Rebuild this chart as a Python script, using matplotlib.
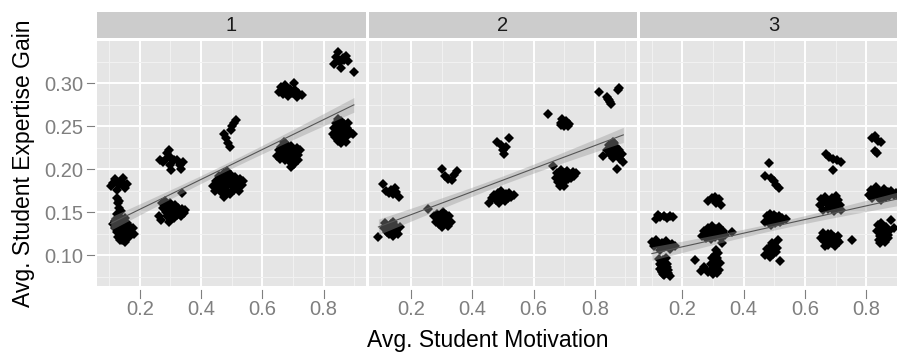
import numpy as np
import matplotlib
matplotlib.use('Agg')
import matplotlib.pyplot as plt

plt.rcParams['font.family'] = ['Liberation Sans', 'DejaVu Sans']

# facet labels
panels = ['1', '2', '3']
x_ticks = [0.2, 0.4, 0.6, 0.8]
y_ticks = [0.10, 0.15, 0.20, 0.25, 0.30]
y_tick_labels = ['0.10', '0.15', '0.20', '0.25', '0.30']

# panel 1 (jittered points)
motiv_1 = [0.112, 0.118, 0.121, 0.124, 0.127, 0.129, 0.131, 0.133, 0.135, 0.137,
           0.139, 0.141, 0.143, 0.145, 0.147, 0.149, 0.151, 0.153, 0.155, 0.158,
           0.161, 0.164, 0.168, 0.172, 0.176, 0.181, 0.126, 0.150, 0.134, 0.119,
           0.105, 0.112, 0.118, 0.125, 0.132, 0.139, 0.146, 0.150, 0.157,
           0.125, 0.128, 0.133, 0.138, 0.131,
           0.265, 0.275, 0.285, 0.290, 0.295, 0.298, 0.300, 0.303, 0.312, 0.322,
           0.330, 0.336, 0.340,
           0.262, 0.268, 0.272, 0.277, 0.282, 0.285, 0.288, 0.291, 0.294, 0.297,
           0.300, 0.303, 0.306, 0.309, 0.312, 0.315, 0.318, 0.322, 0.326, 0.330,
           0.334, 0.338, 0.343, 0.348, 0.337,
           0.475, 0.482, 0.488, 0.493, 0.497, 0.502, 0.508, 0.514,
           0.438, 0.445, 0.450, 0.455, 0.460, 0.463, 0.467, 0.470, 0.473, 0.476,
           0.479, 0.482, 0.485, 0.488, 0.491, 0.494, 0.497, 0.500, 0.503, 0.506,
           0.509, 0.512, 0.516, 0.520, 0.524, 0.528, 0.533, 0.538, 0.486, 0.476,
           0.655, 0.662, 0.668, 0.673, 0.678, 0.684, 0.690, 0.696, 0.702, 0.706,
           0.712, 0.718, 0.728,
           0.648, 0.654, 0.658, 0.662, 0.666, 0.670, 0.673, 0.676, 0.679, 0.682,
           0.685, 0.688, 0.691, 0.694, 0.697, 0.700, 0.703, 0.706, 0.709, 0.712,
           0.715, 0.718, 0.722, 0.695, 0.672,
           0.835, 0.842, 0.848, 0.853, 0.857, 0.862, 0.868, 0.874, 0.880, 0.899,
           0.830, 0.835, 0.838, 0.842, 0.845, 0.848, 0.851, 0.854, 0.857, 0.860,
           0.863, 0.866, 0.869, 0.872, 0.875, 0.878, 0.881, 0.884, 0.890, 0.895,
           0.858, 0.846]
gain_1 = [0.136, 0.131, 0.142, 0.127, 0.135, 0.121, 0.146, 0.130, 0.138, 0.125,
          0.133, 0.118, 0.141, 0.128, 0.135, 0.122, 0.131, 0.143, 0.126, 0.137,
          0.129, 0.121, 0.133, 0.126, 0.131, 0.125, 0.148, 0.115, 0.117, 0.140,
          0.180, 0.184, 0.188, 0.176, 0.181, 0.186, 0.190, 0.178, 0.183,
          0.166, 0.160, 0.155, 0.151, 0.163,
          0.210, 0.208, 0.212, 0.219, 0.222, 0.214, 0.205, 0.199, 0.210, 0.211,
          0.205, 0.200, 0.208,
          0.146, 0.141, 0.160, 0.155, 0.163, 0.150, 0.145, 0.158, 0.139, 0.152,
          0.161, 0.147, 0.155, 0.150, 0.143, 0.158, 0.152, 0.147, 0.155, 0.150,
          0.145, 0.153, 0.149, 0.152, 0.172,
          0.241, 0.236, 0.230, 0.226, 0.245, 0.250, 0.254, 0.257,
          0.180, 0.175, 0.186, 0.178, 0.192, 0.183, 0.172, 0.188, 0.180, 0.195,
          0.184, 0.176, 0.190, 0.182, 0.186, 0.171, 0.193, 0.180, 0.187, 0.176,
          0.184, 0.191, 0.179, 0.185, 0.174, 0.188, 0.182, 0.186, 0.198, 0.168,
          0.290, 0.295, 0.287, 0.298, 0.291, 0.285, 0.293, 0.288, 0.300, 0.292,
          0.284, 0.289, 0.286,
          0.215, 0.222, 0.212, 0.226, 0.218, 0.222, 0.210, 0.229, 0.217, 0.224,
          0.214, 0.219, 0.208, 0.227, 0.215, 0.221, 0.206, 0.213, 0.218, 0.225,
          0.211, 0.216, 0.222, 0.203, 0.231,
          0.322, 0.330, 0.336, 0.325, 0.318, 0.329, 0.327, 0.332, 0.326, 0.313,
          0.241, 0.248, 0.237, 0.254, 0.244, 0.233, 0.250, 0.240, 0.256, 0.246,
          0.235, 0.252, 0.242, 0.231, 0.248, 0.238, 0.254, 0.244, 0.242, 0.241,
          0.230, 0.258]

# panel 2
motiv_2 = [0.093, 0.112, 0.116, 0.120, 0.124, 0.127, 0.130, 0.133, 0.136, 0.139,
           0.142, 0.145, 0.148, 0.151, 0.154, 0.158, 0.162, 0.140,
           0.107, 0.118, 0.126, 0.133, 0.140, 0.146, 0.150, 0.160,
           0.256, 0.275, 0.280, 0.284, 0.288, 0.292, 0.296, 0.300, 0.304, 0.307,
           0.310, 0.313, 0.317, 0.321, 0.325, 0.329, 0.300,
           0.300, 0.312, 0.320, 0.332, 0.340, 0.350,
           0.455, 0.465, 0.472, 0.478, 0.484, 0.490, 0.495, 0.500, 0.505, 0.510,
           0.515, 0.520, 0.527, 0.535, 0.488,
           0.482, 0.494, 0.500, 0.503, 0.510, 0.520,
           0.662, 0.672, 0.677, 0.681, 0.685, 0.689, 0.692, 0.695, 0.698, 0.702,
           0.705, 0.709, 0.713, 0.717, 0.722, 0.727, 0.733, 0.740, 0.700, 0.686,
           0.646, 0.688, 0.694, 0.700, 0.707, 0.714, 0.691, 0.703, 0.711,
           0.825, 0.840, 0.845, 0.850, 0.855, 0.858, 0.862, 0.866, 0.870, 0.874,
           0.878, 0.883, 0.888, 0.893, 0.873, 0.860,
           0.812, 0.840, 0.846, 0.852, 0.880, 0.843, 0.849, 0.877]
gain_2 = [0.121, 0.131, 0.137, 0.127, 0.133, 0.124, 0.130, 0.136, 0.126, 0.132,
          0.122, 0.129, 0.134, 0.127, 0.131, 0.125, 0.133, 0.139,
          0.183, 0.174, 0.172, 0.176, 0.171, 0.178, 0.173, 0.168,
          0.154, 0.145, 0.139, 0.148, 0.142, 0.136, 0.146, 0.140, 0.150, 0.143,
          0.137, 0.147, 0.141, 0.134, 0.145, 0.139, 0.133,
          0.200, 0.192, 0.188, 0.187, 0.193, 0.198,
          0.160, 0.166, 0.170, 0.164, 0.172, 0.167, 0.174, 0.169, 0.163, 0.171,
          0.166, 0.172, 0.168, 0.170, 0.160,
          0.232, 0.228, 0.222, 0.217, 0.226, 0.236,
          0.204, 0.190, 0.196, 0.185, 0.192, 0.199, 0.183, 0.189, 0.195, 0.186,
          0.193, 0.198, 0.188, 0.194, 0.190, 0.197, 0.192, 0.195, 0.180, 0.180,
          0.264, 0.254, 0.258, 0.250, 0.256, 0.252, 0.251, 0.254, 0.250,
          0.215, 0.222, 0.228, 0.218, 0.224, 0.213, 0.230, 0.220, 0.226, 0.215,
          0.222, 0.212, 0.218, 0.208, 0.200, 0.232,
          0.290, 0.284, 0.280, 0.276, 0.294, 0.282, 0.278, 0.292]

# panel 3
motiv_3 = [0.112, 0.120, 0.128, 0.140, 0.150, 0.160, 0.168,
           0.100, 0.108, 0.115, 0.122, 0.128, 0.134, 0.140, 0.147, 0.153, 0.160,
           0.167, 0.175,
           0.125, 0.130, 0.134, 0.138, 0.142, 0.146, 0.150, 0.154, 0.158, 0.145,
           0.135, 0.128, 0.132, 0.140, 0.148, 0.127, 0.152, 0.137,
           0.285, 0.295, 0.305, 0.310, 0.318, 0.325,
           0.265, 0.272, 0.278, 0.283, 0.288, 0.293, 0.297, 0.301, 0.305, 0.309,
           0.313, 0.318, 0.322, 0.327, 0.332, 0.338, 0.362, 0.330,
           0.240, 0.262, 0.272, 0.285, 0.295, 0.302, 0.306, 0.310, 0.314, 0.318,
           0.322, 0.308, 0.300, 0.304, 0.312, 0.298, 0.316, 0.292,
           0.483, 0.470, 0.488, 0.498, 0.506, 0.515,
           0.470, 0.476, 0.481, 0.486, 0.490, 0.494, 0.498, 0.502, 0.506, 0.510,
           0.514, 0.519, 0.524, 0.530, 0.537,
           0.470, 0.476, 0.482, 0.488, 0.494, 0.500, 0.506, 0.512, 0.518,
           0.485, 0.497, 0.509, 0.491,
           0.668, 0.680, 0.692, 0.705, 0.718, 0.693,
           0.648, 0.654, 0.659, 0.664, 0.669, 0.674, 0.679, 0.684, 0.689, 0.694,
           0.699, 0.704, 0.709, 0.714, 0.719, 0.700,
           0.652, 0.658, 0.663, 0.668, 0.674, 0.679, 0.684, 0.689, 0.694, 0.699,
           0.704, 0.710, 0.755, 0.665, 0.676, 0.687, 0.698, 0.707,
           0.820, 0.830, 0.840, 0.848, 0.830, 0.836,
           0.808, 0.815, 0.820, 0.826, 0.832, 0.838, 0.843, 0.848, 0.853, 0.858,
           0.864, 0.870, 0.876, 0.882, 0.890, 0.898, 0.906, 0.915,
           0.835, 0.840, 0.845, 0.850, 0.855, 0.860, 0.865, 0.870, 0.875, 0.880,
           0.845, 0.890, 0.842, 0.852, 0.862, 0.872, 0.848]
gain_3 = [0.142, 0.147, 0.144, 0.145, 0.143, 0.146, 0.144,
          0.115, 0.110, 0.118, 0.112, 0.106, 0.114, 0.109, 0.116, 0.111, 0.107,
          0.113, 0.110,
          0.095, 0.088, 0.082, 0.092, 0.085, 0.079, 0.090, 0.083, 0.076, 0.097,
          0.078, 0.084, 0.080, 0.077, 0.086, 0.090, 0.079, 0.094,
          0.163, 0.166, 0.168, 0.161, 0.165, 0.158,
          0.122, 0.128, 0.120, 0.132, 0.125, 0.119, 0.134, 0.127, 0.121, 0.130,
          0.124, 0.133, 0.126, 0.120, 0.128, 0.123, 0.127, 0.114,
          0.094, 0.082, 0.086, 0.080, 0.084, 0.092, 0.100, 0.088, 0.096, 0.083,
          0.091, 0.106, 0.078, 0.082, 0.079, 0.096, 0.102, 0.090,
          0.207, 0.192, 0.190, 0.186, 0.182, 0.178,
          0.138, 0.145, 0.140, 0.148, 0.135, 0.142, 0.147, 0.137, 0.144, 0.140,
          0.146, 0.138, 0.143, 0.141, 0.142,
          0.100, 0.107, 0.103, 0.110, 0.106, 0.112, 0.104, 0.117, 0.093,
          0.098, 0.101, 0.108, 0.114,
          0.217, 0.214, 0.212, 0.210, 0.208, 0.199,
          0.158, 0.165, 0.152, 0.168, 0.160, 0.154, 0.163, 0.157, 0.166, 0.151,
          0.160, 0.155, 0.164, 0.158, 0.152, 0.169,
          0.120, 0.126, 0.116, 0.122, 0.112, 0.119, 0.125, 0.114, 0.121, 0.111,
          0.118, 0.115, 0.118, 0.110, 0.124, 0.117, 0.113, 0.122,
          0.236, 0.238, 0.233, 0.231, 0.221, 0.219,
          0.170, 0.176, 0.166, 0.172, 0.179, 0.168, 0.174, 0.164, 0.171, 0.177,
          0.167, 0.173, 0.169, 0.175, 0.170, 0.172, 0.168, 0.173,
          0.128, 0.135, 0.122, 0.130, 0.118, 0.126, 0.133, 0.120, 0.128, 0.141,
          0.114, 0.132, 0.117, 0.124, 0.115, 0.123, 0.137]

motiv = [motiv_1, motiv_2, motiv_3]
gain = [gain_1, gain_2, gain_3]

W, H = 897, 352
fig = plt.figure(figsize=(W / 100, H / 100), dpi=100)

panel_w = 268.5
panel_gap = 2.8
top, bottom = 41, 286
strip_top, strip_bottom = 12, 38

for i, name in enumerate(panels):
    left = 97.3 + i * (panel_w + panel_gap)
    ax = fig.add_axes([left / W, (H - bottom) / H, panel_w / W, (bottom - top) / H])
    ax.set_facecolor('#E5E5E5')
    for s in ax.spines.values():
        s.set_visible(False)
    ax.set_xlim(0.061, 0.938)
    ax.set_ylim(0.064, 0.349)
    ax.set_xticks(x_ticks)
    ax.set_xticks([0.1, 0.3, 0.5, 0.7, 0.9], minor=True)
    ax.set_yticks(y_ticks)
    ax.set_yticks([0.075, 0.125, 0.175, 0.225, 0.275, 0.325], minor=True)
    ax.grid(which='major', color='white', lw=1.4)
    ax.grid(which='minor', color='#F2F2F2', lw=0.7)
    ax.set_axisbelow(True)
    ax.tick_params(which='both', length=0, labelsize=14.5, labelcolor='#7F7F7F')
    ax.tick_params(axis='x', pad=10)
    ax.tick_params(axis='y', pad=10)
    if i == 0:
        ax.set_yticklabels(y_tick_labels)
        for yt in y_ticks:
            ax.plot([-3 / panel_w, -10 / panel_w], [yt, yt], color='#7F7F7F', lw=0.8,
                    transform=ax.get_yaxis_transform(), clip_on=False)
    else:
        ax.set_yticklabels([])
    for xt in x_ticks:
        ax.plot([xt, xt], [-4 / 245, -12 / 245], color='#7F7F7F', lw=0.8,
                transform=ax.get_xaxis_transform(), clip_on=False)

    x = np.array(motiv[i])
    y = np.array(gain[i])

    # linear fit with 95% band, like geom_smooth(method = "lm")
    b1, b0 = np.polyfit(x, y, 1)
    n = len(x)
    resid = y - (b0 + b1 * x)
    s = np.sqrt(np.sum(resid ** 2) / (n - 2))
    xs = np.linspace(x.min(), min(x.max(), 0.95), 80)
    se = s * np.sqrt(1 / n + (xs - x.mean()) ** 2 / np.sum((x - x.mean()) ** 2))
    fit = b0 + b1 * xs
    ax.fill_between(xs, fit - 1.97 * se, fit + 1.97 * se, color='#999999', alpha=0.4, lw=0, zorder=3)

    ax.plot(x, y, 'D', ms=5.0, color='black', mew=0, zorder=2)
    ax.plot(xs, fit, color='#555555', lw=0.8, zorder=4)

    sax = fig.add_axes([left / W, (H - strip_bottom) / H, panel_w / W, (strip_bottom - strip_top) / H])
    sax.set_facecolor('#CCCCCC')
    sax.set_xticks([])
    sax.set_yticks([])
    for s_ in sax.spines.values():
        s_.set_visible(False)
    sax.text(0.5, 0.48, name, ha='center', va='center', fontsize=14.5, color='#1A1A1A',
             transform=sax.transAxes)

fig.text(488 / W, 5.5 / H, 'Avg. Student Motivation', ha='center', va='baseline', fontsize=16.5)
fig.text(24 / W, (H - 163) / H, 'Avg. Student Expertise Gain', ha='center', va='center',
         rotation=90, fontsize=16.5)

fig.savefig('out.png', dpi=100)
